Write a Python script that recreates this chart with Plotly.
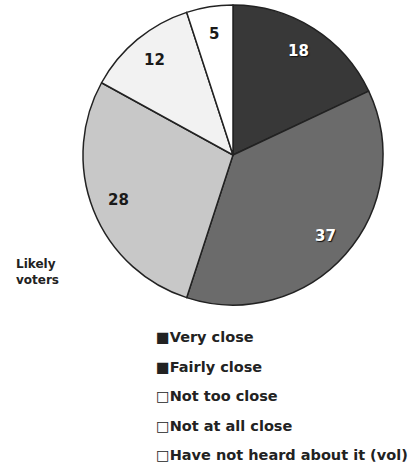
import math
import plotly.graph_objects as go

categories = ["Very close", "Fairly close", "Not too close", "Not at all close", "Have not heard about it (vol)"]
values = [18, 37, 28, 12, 5]
colors = ["#383838", "#6b6b6b", "#c8c8c8", "#f2f2f2", "#ffffff"]
text_colors = ["#ffffff", "#ffffff", "#1a1a1a", "#1a1a1a", "#1a1a1a"]
legend_marks = ["■", "■", "□", "□", "□"]

W, H = 411, 469
CX, CY, R = 233, 155, 150  # pie centre / radius in px (layout)
LABEL_FRAC = 0.82

fig = go.Figure()
fig.add_trace(go.Pie(
    labels=categories,
    values=values,
    sort=False,
    direction="clockwise",
    rotation=0,
    marker=dict(colors=colors, line=dict(color="#222222", width=1.5)),
    textinfo="none",
    domain=dict(x=[(CX - R) / W, (CX + R) / W], y=[1 - (CY + R) / H, 1 - (CY - R) / H]),
    showlegend=False,
    hoverinfo="label+value",
))

annotations = []
total = sum(values)
cum = 0
for v, tc in zip(values, text_colors):
    mid = (cum + v / 2) / total * 2 * math.pi
    cum += v
    px = CX + LABEL_FRAC * R * math.sin(mid)
    py = CY - LABEL_FRAC * R * math.cos(mid)
    annotations.append(dict(
        text=f"<b>{v}</b>", x=px / W, y=1 - py / H, xref="paper", yref="paper",
        xanchor="center", yanchor="middle", showarrow=False,
        font=dict(family="DejaVu Sans", size=15, color=tc,
                  shadow="1px 1px 1px #111" if tc == "#ffffff" else "none"),
    ))

annotations.append(dict(
    text="<b>Likely<br>voters</b>", x=14 / W, y=1 - 255 / H, xref="paper", yref="paper",
    xanchor="left", yanchor="top", showarrow=False, align="left",
    font=dict(family="DejaVu Sans", size=12, color="#222222"),
))
for i, (cat, mark) in enumerate(zip(categories, legend_marks)):
    annotations.append(dict(
        text=f"{mark}<b>{cat}</b>", x=154 / W, y=1 - (337 + 29.5 * i) / H,
        xref="paper", yref="paper", xanchor="left", yanchor="middle", showarrow=False,
        font=dict(family="DejaVu Sans", size=14.5, color="#222222"),
    ))

fig.update_layout(
    width=W, height=H,
    margin=dict(l=0, r=0, t=0, b=0),
    paper_bgcolor="white", plot_bgcolor="white",
    annotations=annotations,
)
fig.write_html("out.html", config={"displayModeBar": False},
               post_script="document.body.style.margin='0';")
